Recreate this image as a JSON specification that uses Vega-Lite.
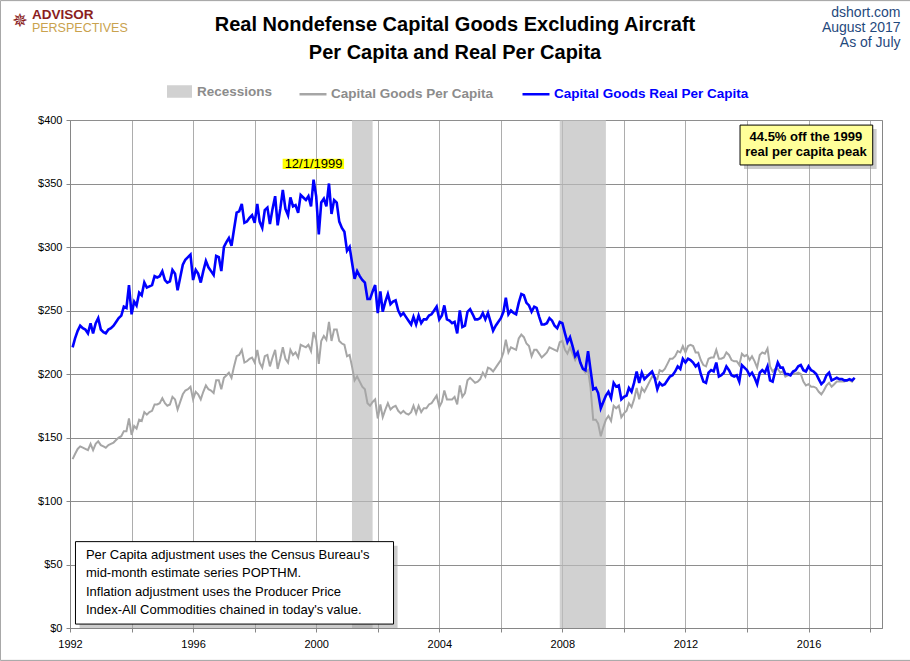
{
  "$schema": "https://vega.github.io/schema/vega-lite/v6.json",
  "width": 812,
  "height": 508,
  "autosize": "none",
  "padding": {"left": 70, "top": 120, "right": 28, "bottom": 33},
  "background": "white",
  "datasets": {
    "capgoods": [
      {"date":"1992-02-01","nominal":133,"real":221},{"date":"1992-03-01","nominal":137,"real":228},{"date":"1992-04-01","nominal":141,"real":234},{"date":"1992-05-01","nominal":143,"real":238},{"date":"1992-06-01","nominal":142,"real":236},{"date":"1992-07-01","nominal":141,"real":235},{"date":"1992-08-01","nominal":140,"real":232},{"date":"1992-09-01","nominal":145,"real":240},{"date":"1992-10-01","nominal":140,"real":232},{"date":"1992-11-01","nominal":145,"real":240},{"date":"1992-12-01","nominal":147,"real":244},
      {"date":"1993-01-01","nominal":144,"real":235},{"date":"1993-02-01","nominal":143,"real":233},{"date":"1993-03-01","nominal":142,"real":232},{"date":"1993-04-01","nominal":144,"real":235},{"date":"1993-05-01","nominal":145,"real":236},{"date":"1993-06-01","nominal":146,"real":238},{"date":"1993-07-01","nominal":148,"real":241},{"date":"1993-08-01","nominal":150,"real":244},{"date":"1993-09-01","nominal":151,"real":246},{"date":"1993-10-01","nominal":155,"real":253},{"date":"1993-11-01","nominal":155,"real":252},{"date":"1993-12-01","nominal":165,"real":270},
      {"date":"1994-01-01","nominal":152,"real":247},{"date":"1994-02-01","nominal":159,"real":257},{"date":"1994-03-01","nominal":157,"real":254},{"date":"1994-04-01","nominal":164,"real":264},{"date":"1994-05-01","nominal":163,"real":262},{"date":"1994-06-01","nominal":170,"real":272},{"date":"1994-07-01","nominal":168,"real":268},{"date":"1994-08-01","nominal":170,"real":269},{"date":"1994-09-01","nominal":171,"real":270},{"date":"1994-10-01","nominal":176,"real":277},{"date":"1994-11-01","nominal":176,"real":276},{"date":"1994-12-01","nominal":177,"real":277},
      {"date":"1995-01-01","nominal":181,"real":281},{"date":"1995-02-01","nominal":177,"real":274},{"date":"1995-03-01","nominal":175,"real":272},{"date":"1995-04-01","nominal":176,"real":273},{"date":"1995-05-01","nominal":182,"real":282},{"date":"1995-06-01","nominal":180,"real":279},{"date":"1995-07-01","nominal":172,"real":266},{"date":"1995-08-01","nominal":178,"real":276},{"date":"1995-09-01","nominal":184,"real":286},{"date":"1995-10-01","nominal":187,"real":290},{"date":"1995-11-01","nominal":188,"real":292},{"date":"1995-12-01","nominal":190,"real":294},
      {"date":"1996-01-01","nominal":180,"real":274},{"date":"1996-02-01","nominal":186,"real":282},{"date":"1996-03-01","nominal":184,"real":279},{"date":"1996-04-01","nominal":180,"real":272},{"date":"1996-05-01","nominal":186,"real":281},{"date":"1996-06-01","nominal":191,"real":289},{"date":"1996-07-01","nominal":188,"real":284},{"date":"1996-08-01","nominal":187,"real":281},{"date":"1996-09-01","nominal":185,"real":278},{"date":"1996-10-01","nominal":195,"real":293},{"date":"1996-11-01","nominal":195,"real":292},{"date":"1996-12-01","nominal":188,"real":281},
      {"date":"1997-01-01","nominal":197,"real":300},{"date":"1997-02-01","nominal":199,"real":304},{"date":"1997-03-01","nominal":201,"real":307},{"date":"1997-04-01","nominal":197,"real":301},{"date":"1997-05-01","nominal":206,"real":314},{"date":"1997-06-01","nominal":214,"real":327},{"date":"1997-07-01","nominal":215,"real":328},{"date":"1997-08-01","nominal":219,"real":334},{"date":"1997-09-01","nominal":209,"real":319},{"date":"1997-10-01","nominal":210,"real":320},{"date":"1997-11-01","nominal":212,"real":323},{"date":"1997-12-01","nominal":213,"real":325},
      {"date":"1998-01-01","nominal":209,"real":319},{"date":"1998-02-01","nominal":219,"real":334},{"date":"1998-03-01","nominal":209,"real":320},{"date":"1998-04-01","nominal":205,"real":315},{"date":"1998-05-01","nominal":214,"real":329},{"date":"1998-06-01","nominal":215,"real":331},{"date":"1998-07-01","nominal":206,"real":318},{"date":"1998-08-01","nominal":213,"real":330},{"date":"1998-09-01","nominal":219,"real":340},{"date":"1998-10-01","nominal":204,"real":317},{"date":"1998-11-01","nominal":212,"real":330},{"date":"1998-12-01","nominal":221,"real":345},
      {"date":"1999-01-01","nominal":212,"real":330},{"date":"1999-02-01","nominal":209,"real":325},{"date":"1999-03-01","nominal":219,"real":339},{"date":"1999-04-01","nominal":215,"real":332},{"date":"1999-05-01","nominal":217,"real":333},{"date":"1999-06-01","nominal":213,"real":327},{"date":"1999-07-01","nominal":223,"real":341},{"date":"1999-08-01","nominal":222,"real":339},{"date":"1999-09-01","nominal":221,"real":337},{"date":"1999-10-01","nominal":223,"real":340},{"date":"1999-11-01","nominal":218,"real":332},{"date":"1999-12-01","nominal":233,"real":353},
      {"date":"2000-01-01","nominal":227,"real":340},{"date":"2000-02-01","nominal":208,"real":310},{"date":"2000-03-01","nominal":226,"real":335},{"date":"2000-04-01","nominal":230,"real":338},{"date":"2000-05-01","nominal":227,"real":332},{"date":"2000-06-01","nominal":241,"real":350},{"date":"2000-07-01","nominal":226,"real":326},{"date":"2000-08-01","nominal":235,"real":337},{"date":"2000-09-01","nominal":235,"real":335},{"date":"2000-10-01","nominal":226,"real":320},{"date":"2000-11-01","nominal":224,"real":315},{"date":"2000-12-01","nominal":223,"real":312},
      {"date":"2001-01-01","nominal":214,"real":297},{"date":"2001-02-01","nominal":215,"real":300},{"date":"2001-03-01","nominal":206,"real":288},{"date":"2001-04-01","nominal":195,"real":275},{"date":"2001-05-01","nominal":198,"real":281},{"date":"2001-06-01","nominal":194,"real":277},{"date":"2001-07-01","nominal":190,"real":274},{"date":"2001-08-01","nominal":188,"real":272},{"date":"2001-09-01","nominal":177,"real":259},{"date":"2001-10-01","nominal":175,"real":259},{"date":"2001-11-01","nominal":178,"real":265},{"date":"2001-12-01","nominal":180,"real":270},
      {"date":"2002-01-01","nominal":165,"real":248},{"date":"2002-02-01","nominal":176,"real":265},{"date":"2002-03-01","nominal":166,"real":249},{"date":"2002-04-01","nominal":172,"real":257},{"date":"2002-05-01","nominal":177,"real":263},{"date":"2002-06-01","nominal":172,"real":255},{"date":"2002-07-01","nominal":174,"real":257},{"date":"2002-08-01","nominal":175,"real":258},{"date":"2002-09-01","nominal":171,"real":250},{"date":"2002-10-01","nominal":169,"real":246},{"date":"2002-11-01","nominal":171,"real":248},{"date":"2002-12-01","nominal":169,"real":245},
      {"date":"2003-01-01","nominal":168,"real":242},{"date":"2003-02-01","nominal":170,"real":239},{"date":"2003-03-01","nominal":175,"real":245},{"date":"2003-04-01","nominal":169,"real":239},{"date":"2003-05-01","nominal":175,"real":246},{"date":"2003-06-01","nominal":170,"real":240},{"date":"2003-07-01","nominal":173,"real":243},{"date":"2003-08-01","nominal":173,"real":243},{"date":"2003-09-01","nominal":176,"real":246},{"date":"2003-10-01","nominal":177,"real":247},{"date":"2003-11-01","nominal":180,"real":250},{"date":"2003-12-01","nominal":183,"real":253},
      {"date":"2004-01-01","nominal":174,"real":243},{"date":"2004-02-01","nominal":178,"real":246},{"date":"2004-03-01","nominal":187,"real":254},{"date":"2004-04-01","nominal":180,"real":243},{"date":"2004-05-01","nominal":180,"real":242},{"date":"2004-06-01","nominal":180,"real":240},{"date":"2004-07-01","nominal":182,"real":241},{"date":"2004-08-01","nominal":176,"real":232},{"date":"2004-09-01","nominal":191,"real":250},{"date":"2004-10-01","nominal":182,"real":237},{"date":"2004-11-01","nominal":185,"real":238},{"date":"2004-12-01","nominal":195,"real":249},
      {"date":"2005-01-01","nominal":197,"real":251},{"date":"2005-02-01","nominal":195,"real":247},{"date":"2005-03-01","nominal":193,"real":243},{"date":"2005-04-01","nominal":194,"real":243},{"date":"2005-05-01","nominal":196,"real":244},{"date":"2005-06-01","nominal":201,"real":248},{"date":"2005-07-01","nominal":198,"real":243},{"date":"2005-08-01","nominal":205,"real":248},{"date":"2005-09-01","nominal":204,"real":241},{"date":"2005-10-01","nominal":202,"real":234},{"date":"2005-11-01","nominal":205,"real":238},{"date":"2005-12-01","nominal":208,"real":241},
      {"date":"2006-01-01","nominal":211,"real":244},{"date":"2006-02-01","nominal":217,"real":249},{"date":"2006-03-01","nominal":227,"real":260},{"date":"2006-04-01","nominal":217,"real":247},{"date":"2006-05-01","nominal":221,"real":250},{"date":"2006-06-01","nominal":220,"real":248},{"date":"2006-07-01","nominal":219,"real":247},{"date":"2006-08-01","nominal":228,"real":256},{"date":"2006-09-01","nominal":231,"real":263},{"date":"2006-10-01","nominal":229,"real":262},{"date":"2006-11-01","nominal":224,"real":256},{"date":"2006-12-01","nominal":222,"real":254},
      {"date":"2007-01-01","nominal":214,"real":249},{"date":"2007-02-01","nominal":219,"real":253},{"date":"2007-03-01","nominal":219,"real":252},{"date":"2007-04-01","nominal":216,"real":245},{"date":"2007-05-01","nominal":213,"real":239},{"date":"2007-06-01","nominal":215,"real":239},{"date":"2007-07-01","nominal":217,"real":240},{"date":"2007-08-01","nominal":221,"real":244},{"date":"2007-09-01","nominal":220,"real":242},{"date":"2007-10-01","nominal":219,"real":238},{"date":"2007-11-01","nominal":218,"real":236},{"date":"2007-12-01","nominal":225,"real":241},
      {"date":"2008-01-01","nominal":226,"real":240},{"date":"2008-02-01","nominal":219,"real":232},{"date":"2008-03-01","nominal":216,"real":225},{"date":"2008-04-01","nominal":221,"real":229},{"date":"2008-05-01","nominal":216,"real":222},{"date":"2008-06-01","nominal":211,"real":214},{"date":"2008-07-01","nominal":215,"real":217},{"date":"2008-08-01","nominal":209,"real":209},{"date":"2008-09-01","nominal":204,"real":204},{"date":"2008-10-01","nominal":201,"real":203},{"date":"2008-11-01","nominal":203,"real":218},{"date":"2008-12-01","nominal":189,"real":203},
      {"date":"2009-01-01","nominal":164,"real":188},{"date":"2009-02-01","nominal":164,"real":189},{"date":"2009-03-01","nominal":161,"real":185},{"date":"2009-04-01","nominal":151,"real":173},{"date":"2009-05-01","nominal":158,"real":178},{"date":"2009-06-01","nominal":164,"real":183},{"date":"2009-07-01","nominal":167,"real":186},{"date":"2009-08-01","nominal":163,"real":181},{"date":"2009-09-01","nominal":175,"real":193},{"date":"2009-10-01","nominal":173,"real":190},{"date":"2009-11-01","nominal":175,"real":191},{"date":"2009-12-01","nominal":166,"real":180},
      {"date":"2010-01-01","nominal":169,"real":182},{"date":"2010-02-01","nominal":171,"real":183},{"date":"2010-03-01","nominal":177,"real":189},{"date":"2010-04-01","nominal":174,"real":186},{"date":"2010-05-01","nominal":180,"real":193},{"date":"2010-06-01","nominal":189,"real":202},{"date":"2010-07-01","nominal":180,"real":193},{"date":"2010-08-01","nominal":189,"real":201},{"date":"2010-09-01","nominal":186,"real":196},{"date":"2010-10-01","nominal":190,"real":198},{"date":"2010-11-01","nominal":194,"real":200},{"date":"2010-12-01","nominal":198,"real":202},
      {"date":"2011-01-01","nominal":197,"real":197},{"date":"2011-02-01","nominal":196,"real":188},{"date":"2011-03-01","nominal":203,"real":193},{"date":"2011-04-01","nominal":202,"real":191},{"date":"2011-05-01","nominal":204,"real":192},{"date":"2011-06-01","nominal":208,"real":195},{"date":"2011-07-01","nominal":212,"real":198},{"date":"2011-08-01","nominal":212,"real":199},{"date":"2011-09-01","nominal":214,"real":202},{"date":"2011-10-01","nominal":218,"real":206},{"date":"2011-11-01","nominal":217,"real":204},{"date":"2011-12-01","nominal":222,"real":212},
      {"date":"2012-01-01","nominal":217,"real":209},{"date":"2012-02-01","nominal":222,"real":212},{"date":"2012-03-01","nominal":223,"real":211},{"date":"2012-04-01","nominal":222,"real":209},{"date":"2012-05-01","nominal":217,"real":206},{"date":"2012-06-01","nominal":217,"real":208},{"date":"2012-07-01","nominal":211,"real":200},{"date":"2012-08-01","nominal":207,"real":194},{"date":"2012-09-01","nominal":206,"real":193},{"date":"2012-10-01","nominal":212,"real":201},{"date":"2012-11-01","nominal":213,"real":203},{"date":"2012-12-01","nominal":213,"real":202},
      {"date":"2013-01-01","nominal":219,"real":209},{"date":"2013-02-01","nominal":212,"real":198},{"date":"2013-03-01","nominal":212,"real":199},{"date":"2013-04-01","nominal":213,"real":201},{"date":"2013-05-01","nominal":217,"real":206},{"date":"2013-06-01","nominal":215,"real":203},{"date":"2013-07-01","nominal":211,"real":199},{"date":"2013-08-01","nominal":210,"real":198},{"date":"2013-09-01","nominal":210,"real":199},{"date":"2013-10-01","nominal":207,"real":194},{"date":"2013-11-01","nominal":216,"real":207},{"date":"2013-12-01","nominal":214,"real":205},
      {"date":"2014-01-01","nominal":215,"real":203},{"date":"2014-02-01","nominal":211,"real":199},{"date":"2014-03-01","nominal":214,"real":201},{"date":"2014-04-01","nominal":210,"real":197},{"date":"2014-05-01","nominal":205,"real":192},{"date":"2014-06-01","nominal":215,"real":201},{"date":"2014-07-01","nominal":217,"real":203},{"date":"2014-08-01","nominal":216,"real":201},{"date":"2014-09-01","nominal":220,"real":206},{"date":"2014-10-01","nominal":206,"real":195},{"date":"2014-11-01","nominal":202,"real":194},{"date":"2014-12-01","nominal":204,"real":202},
      {"date":"2015-01-01","nominal":204,"real":209},{"date":"2015-02-01","nominal":201,"real":205},{"date":"2015-03-01","nominal":202,"real":205},{"date":"2015-04-01","nominal":198,"real":200},{"date":"2015-05-01","nominal":199,"real":200},{"date":"2015-06-01","nominal":199,"real":199},{"date":"2015-07-01","nominal":201,"real":202},{"date":"2015-08-01","nominal":200,"real":203},{"date":"2015-09-01","nominal":201,"real":206},{"date":"2015-10-01","nominal":200,"real":207},{"date":"2015-11-01","nominal":194,"real":203},{"date":"2015-12-01","nominal":191,"real":202},
      {"date":"2016-01-01","nominal":192,"real":206},{"date":"2016-02-01","nominal":190,"real":203},{"date":"2016-03-01","nominal":190,"real":202},{"date":"2016-04-01","nominal":189,"real":200},{"date":"2016-05-01","nominal":186,"real":196},{"date":"2016-06-01","nominal":184,"real":192},{"date":"2016-07-01","nominal":187,"real":194},{"date":"2016-08-01","nominal":191,"real":199},{"date":"2016-09-01","nominal":193,"real":201},{"date":"2016-10-01","nominal":190,"real":195},{"date":"2016-11-01","nominal":192,"real":196},{"date":"2016-12-01","nominal":194,"real":197},
      {"date":"2017-01-01","nominal":194,"real":196},{"date":"2017-02-01","nominal":194,"real":196},{"date":"2017-03-01","nominal":194,"real":195},{"date":"2017-04-01","nominal":195,"real":195},{"date":"2017-05-01","nominal":195,"real":196},{"date":"2017-06-01","nominal":194,"real":195},{"date":"2017-07-01","nominal":197,"real":197}
    ],
    "recessions": [
      {"start": "2001-03-01", "end": "2001-11-01"},
      {"start": "2007-12-01", "end": "2009-06-01"}
    ]
  },
  "layer": [
    {
      "data": {"values": [{}]},
      "mark": {"type": "rect", "filled": false, "stroke": "#A0A0A0", "strokeWidth": 1},
      "encoding": {
        "x": {"datum": {"year": 1989, "month": 9, "date": 27}, "type": "temporal"},
        "x2": {"datum": {"year": 2019, "month": 4, "date": 26}},
        "y": {"datum": 494},
        "y2": {"datum": -25.5}
      }
    },
    {
      "data": {"name": "recessions"},
      "mark": {"type": "rect", "opacity": 0.7},
      "encoding": {
        "x": {"field": "start", "type": "temporal"},
        "x2": {"field": "end"},
        "y": {"datum": 0, "type": "quantitative"},
        "y2": {"datum": 400},
        "color": {
          "datum": "Recessions",
          "type": "nominal",
          "scale": {"range": ["#BDBDBD"]},
          "legend": {
            "orient": "none",
            "legendX": 97,
            "legendY": -41,
            "title": null,
            "symbolType": "M-1,-0.5H1V0.5H-1Z",
            "symbolSize": 625,
            "symbolStrokeWidth": 0,
            "labelColor": "#8C8C8C",
            "labelOffset": 5
          }
        }
      }
    },
    {
      "data": {"name": "capgoods"},
      "mark": {"type": "line", "strokeWidth": 2, "interpolate": "linear"},
      "encoding": {
        "x": {
          "field": "date",
          "type": "temporal",
          "scale": {"domain": [{"year": 1992, "month": 1, "date": 1}, {"year": 2018, "month": 5, "date": 22}], "nice": false},
          "axis": {
            "title": null,
            "values": [{"year":1992},{"year":1993},{"year":1994},{"year":1995},{"year":1996},{"year":1997},{"year":1998},{"year":1999},{"year":2000},{"year":2001},{"year":2002},{"year":2003},{"year":2004},{"year":2005},{"year":2006},{"year":2007},{"year":2008},{"year":2009},{"year":2010},{"year":2011},{"year":2012},{"year":2013},{"year":2014},{"year":2015},{"year":2016},{"year":2017},{"year":2018}],
            "labelExpr": "year(datum.value) % 4 == 0 ? timeFormat(datum.value, '%Y') : ''",
            "labelOverlap": false,
            "labelFlush": false,
            "grid": true,
            "gridColor": "#ADADAD",
            "tickSize": 4,
            "labelPadding": 6
          }
        },
        "y": {
          "field": "nominal",
          "type": "quantitative",
          "scale": {"domain": [0, 400], "nice": false},
          "axis": {
            "title": null,
            "values": [0, 50, 100, 150, 200, 250, 300, 350, 400],
            "format": "$d",
            "grid": true,
            "gridColor": "#8E8E8E",
            "tickSize": 4,
            "labelPadding": 4
          }
        },
        "stroke": {
          "datum": "Capital Goods Per Capita",
          "type": "nominal",
          "scale": {"domain": ["Capital Goods Per Capita", "Capital Goods Real Per Capita"], "range": ["#A6A6A6", "#0000FF"]},
          "legend": {
            "orient": "none",
            "legendX": 228,
            "legendY": -41,
            "direction": "horizontal",
            "title": null,
            "symbolType": "stroke",
            "symbolSize": 729,
            "symbolStrokeWidth": 2.5,
            "labelOffset": 3,
            "columnPadding": 23,
            "labelColor": {"expr": "datum.label == 'Capital Goods Real Per Capita' ? '#0000FF' : '#8C8C8C'"}
          }
        }
      }
    },
    {
      "data": {"name": "capgoods"},
      "mark": {"type": "line", "strokeWidth": 2.6, "interpolate": "linear"},
      "encoding": {
        "x": {"field": "date", "type": "temporal"},
        "y": {"field": "real", "type": "quantitative"},
        "stroke": {"datum": "Capital Goods Real Per Capita", "type": "nominal"}
      }
    },
    {
      "data": {"values": [{}]},
      "mark": {"type": "rect", "fill": "#FFFF00"},
      "encoding": {
        "x": {"datum": {"year": 1998, "month": 11, "date": 29}, "type": "temporal"},
        "x2": {"datum": {"year": 2000, "month": 11, "date": 27}},
        "y": {"datum": 369.5},
        "y2": {"datum": 361.5}
      }
    },
    {
      "data": {"values": [{}]},
      "mark": {"type": "text", "text": "12/1/1999", "font": "Liberation Sans", "fontSize": 13, "color": "#000000", "align": "center", "baseline": "middle"},
      "encoding": {
        "x": {"datum": {"year": 1999, "month": 12, "date": 1}, "type": "temporal"},
        "y": {"datum": 365.3}
      }
    },
    {
      "data": {"values": [{}]},
      "mark": {"type": "rect", "fill": "#9A9A9A", "opacity": 0.5},
      "encoding": {
        "x": {"datum": {"year": 2013, "month": 11, "date": 26}, "type": "temporal"},
        "x2": {"datum": {"year": 2018, "month": 3, "date": 19}},
        "y": {"datum": 392.9},
        "y2": {"datum": 361.4}
      }
    },
    {
      "data": {"values": [{}]},
      "mark": {"type": "rect", "fill": "#FFFF99", "stroke": "#000000", "strokeWidth": 1},
      "encoding": {
        "x": {"datum": {"year": 2013, "month": 10, "date": 10}, "type": "temporal"},
        "x2": {"datum": {"year": 2018, "month": 2, "date": 1}},
        "y": {"datum": 396},
        "y2": {"datum": 364.6}
      }
    },
    {
      "data": {"values": [{}]},
      "mark": {"type": "text", "text": ["44.5%  off the 1999", "real per capita peak"], "font": "Liberation Sans", "fontSize": 13, "fontWeight": "bold", "lineHeight": 15.6, "color": "#000000", "align": "center", "baseline": "middle"},
      "encoding": {
        "x": {"datum": {"year": 2015, "month": 12, "date": 1}, "type": "temporal"},
        "y": {"datum": 386.9}
      }
    },
    {
      "data": {"values": [{}]},
      "mark": {"type": "rect", "fill": "#9A9A9A", "opacity": 0.5},
      "encoding": {
        "x": {"datum": {"year": 1992, "month": 4, "date": 23}, "type": "temporal"},
        "x2": {"datum": {"year": 2002, "month": 8, "date": 24}},
        "y": {"datum": 64.8},
        "y2": {"datum": 0}
      }
    },
    {
      "data": {"values": [{}]},
      "mark": {"type": "rect", "fill": "#FFFFFF", "stroke": "#000000", "strokeWidth": 1},
      "encoding": {
        "x": {"datum": {"year": 1992, "month": 3, "date": 6}, "type": "temporal"},
        "x2": {"datum": {"year": 2002, "month": 7, "date": 7}},
        "y": {"datum": 68},
        "y2": {"datum": 3.1}
      }
    },
    {
      "data": {"values": [{}]},
      "mark": {"type": "text", "text": ["Per Capita adjustment uses the Census Bureau's", "mid-month estimate series POPTHM.", "Inflation adjustment uses the Producer Price", "Index-All Commodities chained in today's value."], "font": "Liberation Sans", "fontSize": 13, "lineHeight": 18.3, "color": "#000000", "align": "left", "baseline": "middle"},
      "encoding": {
        "x": {"datum": {"year": 1992, "month": 7, "date": 8}, "type": "temporal"},
        "y": {"datum": 57.5}
      }
    },
    {
      "data": {"values": [{}]},
      "mark": {"type": "text", "text": ["Real Nondefense Capital Goods Excluding Aircraft", "Per Capita and Real Per Capita"], "font": "Liberation Sans", "fontSize": 20, "fontWeight": "bold", "lineHeight": 28, "color": "#000000", "align": "center", "baseline": "middle"},
      "encoding": {
        "x": {"datum": {"year": 2004, "month": 7, "date": 6}, "type": "temporal"},
        "y": {"datum": 474.8}
      }
    },
    {
      "data": {"values": [{}]},
      "mark": {"type": "text", "text": ["dshort.com", "August  2017", "As of July"], "font": "Liberation Sans", "fontSize": 14, "lineHeight": 15, "color": "#1F497D", "align": "right", "baseline": "middle"},
      "encoding": {
        "x": {"datum": {"year": 2018, "month": 12, "date": 28}, "type": "temporal"},
        "y": {"datum": 484}
      }
    },
    {
      "data": {"values": [{}]},
      "mark": {"type": "text", "text": "✵", "font": "DejaVu Sans", "fontSize": 19, "color": "#8B1E1E", "align": "center", "baseline": "middle"},
      "encoding": {
        "x": {"datum": {"year": 1990, "month": 5, "date": 16}, "type": "temporal"},
        "y": {"datum": 477.6}
      }
    },
    {
      "data": {"values": [{}]},
      "mark": {"type": "text", "text": "ADVISOR", "font": "Liberation Sans", "fontSize": 13.5, "fontWeight": "bold", "color": "#8B1E1E", "align": "left", "baseline": "middle"},
      "encoding": {
        "x": {"datum": {"year": 1990, "month": 10, "date": 6}, "type": "temporal"},
        "y": {"datum": 482.7}
      }
    },
    {
      "data": {"values": [{}]},
      "mark": {"type": "text", "text": "PERSPECTIVES", "font": "Liberation Sans", "fontSize": 12.5, "color": "#C9A24E", "align": "left", "baseline": "middle"},
      "encoding": {
        "x": {"datum": {"year": 1990, "month": 10, "date": 6}, "type": "temporal"},
        "y": {"datum": 472.3}
      }
    }
  ],
  "config": {
    "view": {"stroke": "#868686", "strokeWidth": 1},
    "axis": {
      "labelFont": "Liberation Sans",
      "labelFontSize": 11,
      "labelColor": "#000000",
      "domainColor": "#868686",
      "tickColor": "#868686"
    },
    "legend": {
      "labelFont": "Liberation Sans",
      "labelFontSize": 13.5,
      "labelFontWeight": "bold",
      "labelLimit": 400
    }
  }
}
